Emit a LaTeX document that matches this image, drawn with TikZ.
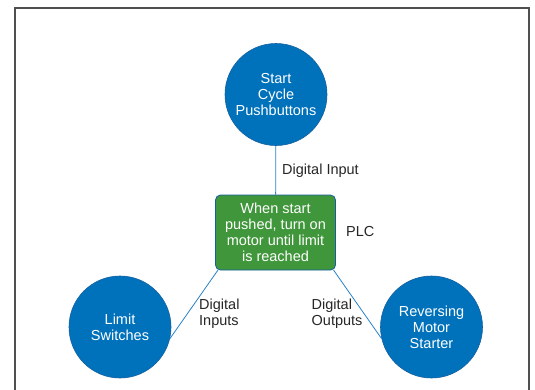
\documentclass[tikz,border=0pt]{standalone}
\usepackage{fontspec}
\setmainfont{Liberation Sans}
\definecolor{circblue}{RGB}{0,114,187}
\definecolor{circedge}{RGB}{20,95,160}
\definecolor{boxgreen}{RGB}{64,150,58}
\definecolor{linkblue}{RGB}{40,130,200}
\definecolor{framegray}{RGB}{80,80,80}
\begin{document}
\begin{tikzpicture}[x=1pt,y=-1pt,
  device/.style={circle, fill=circblue, draw=circedge, line width=0.6pt, minimum size=102pt, inner sep=0pt,
    text=white, align=center, font=\fontsize{14.5}{16}\selectfont},
  plcbox/.style={rectangle, rounded corners=5pt, fill=boxgreen, draw=circedge, line width=0.8pt,
    minimum width=120pt, minimum height=75pt, inner sep=0pt, text=white, align=center,
    font=\fontsize{14.5}{16}\selectfont},
  link/.style={draw=linkblue, line width=0.8pt},
  lbl/.style={text=black!85, align=left, inner sep=0pt, font=\fontsize{14.5}{16}\selectfont}]
\useasboundingbox (0,0) rectangle (535,389);
\draw[framegray, line width=2pt] (15,395) -- (15,8) -- (529,8) -- (529,395);
\node[device] (start) at (276,94.5) {Start\\Cycle\\Pushbuttons};
\node[plcbox] (plc) at (275.5,232.5) {When start\\pushed, turn on\\motor until limit\\is reached};
\node[device] (limit) at (120,327) {Limit\\Switches};
\node[device] (motor) at (431.5,327) {Reversing\\Motor\\Starter};
\coordinate (plcbl) at (218,270);
\coordinate (plcbr) at (333.5,270);
\draw[link] (start) -- (plc);
\draw[link] (plcbl) -- (limit.-13);
\draw[link] (plcbr) -- (motor.193);
\node[lbl, anchor=west] (lin) at (282,170.5) {Digital Input};
\node[lbl, anchor=west] (lplc) at (346,231.5) {PLC};
\node[lbl, anchor=west] (lins) at (199,313.5) {Digital\\Inputs};
\node[lbl, anchor=west] (louts) at (311.5,313.5) {Digital\\Outputs};
\end{tikzpicture}
\end{document}
